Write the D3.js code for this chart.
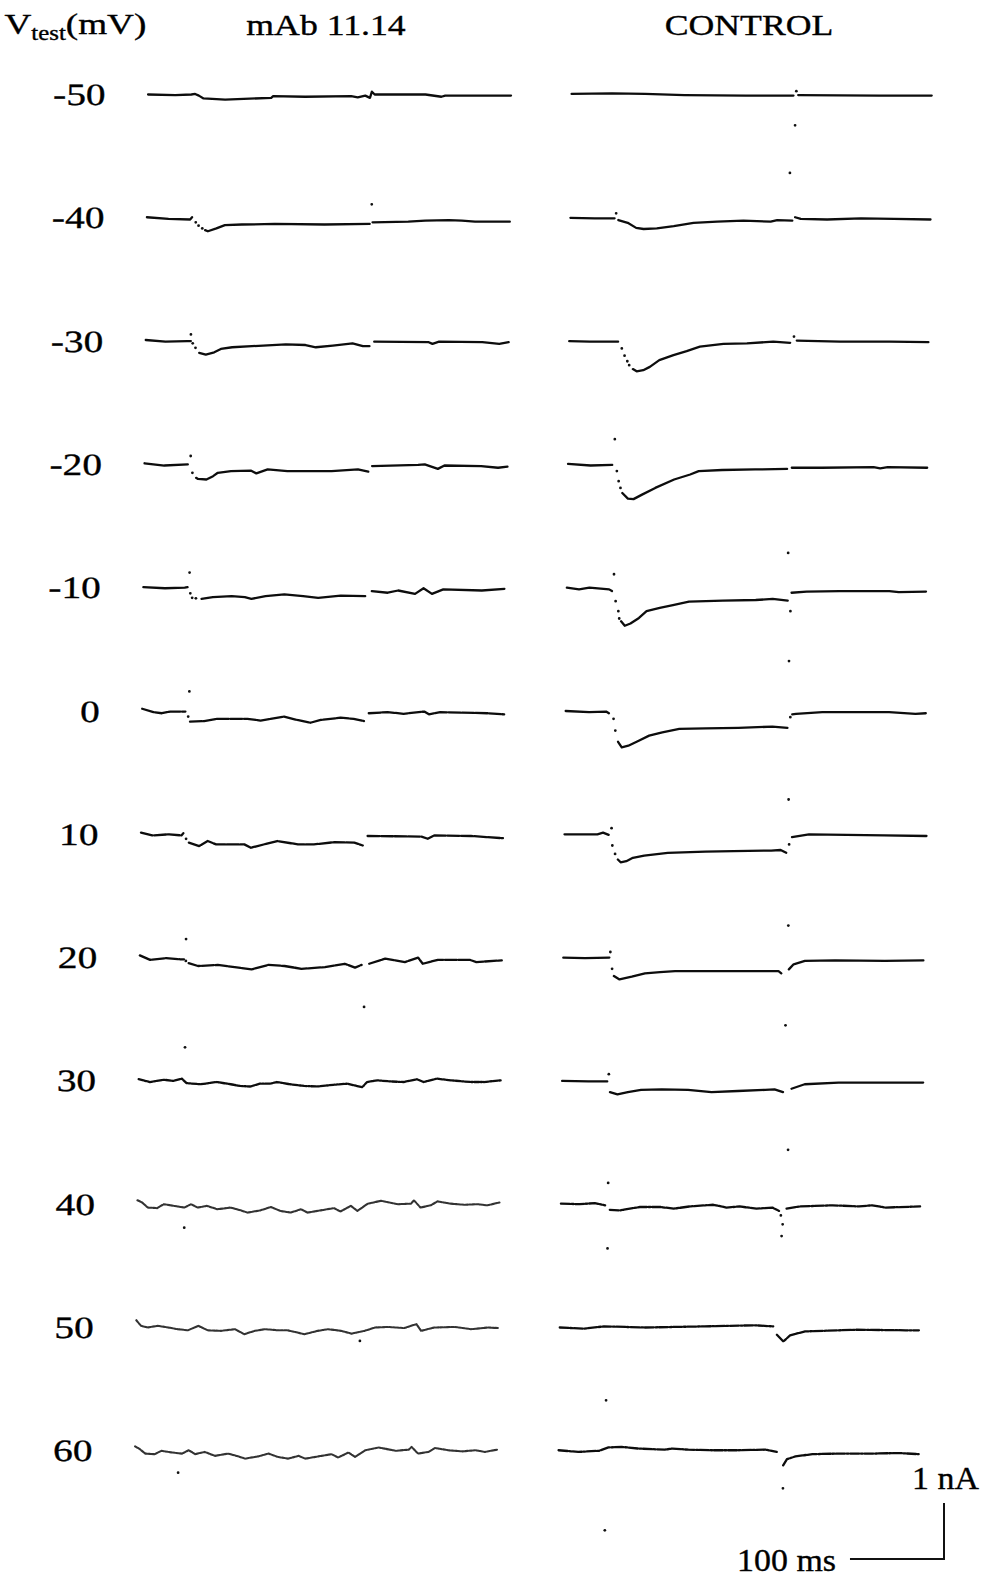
<!DOCTYPE html>
<html>
<head>
<meta charset="utf-8">
<script src="https://cdn.jsdelivr.net/npm/d3@7"></script>
<style>
  html, body { margin: 0; padding: 0; background: #fff; }
  svg { display: block; }
  text { font-family: "Liberation Serif", "Times New Roman", serif; fill: #000; stroke: #000; stroke-width: 0.35px; }
</style>
</head>
<body>
<svg id="chart" width="986" height="1579"></svg>
<script>
// ---- data -------------------------------------------------------------
// Test potentials (mV), one row of traces each
const voltages = [-50, -40, -30, -20, -10, 0, 10, 20, 30, 40, 50, 60];
const columnTitles = ["mAb 11.14", "CONTROL"];

// Current traces as [time (ms), current (nA)] relative to the holding level.
// null = pen lifted (fast transient drawn as isolated samples instead).
const mAbTraces = [
  [[0,0],[29,-0.01],[46,0],[50,0.01],[54,-0.02],[59,-0.07],[82,-0.09],[131,-0.06],[133,-0.03],[167,-0.04],[216,-0.03],[223,-0.05],[231,-0.02],[236,-0.06],[238,0.05],[241,0],[295,0],[312,-0.04],[316,-0.02],[380,-0.02],[386,-0.02]],
  [[0,0.01],[23,-0.02],[46,-0.03],[48,0.01],null,[62,-0.22],[65,-0.24],[74,-0.19],[83,-0.13],[101,-0.12],[136,-0.11],[189,-0.12],[237,-0.11],null,[240,-0.08],[278,-0.07],[296,-0.05],[321,-0.04],[335,-0.05],[349,-0.07],[386,-0.07]],
  [[0,0.02],[21,-0.01],[44,0],[48,0],null,[57,-0.21],[64,-0.24],[73,-0.2],[80,-0.14],[92,-0.11],[113,-0.09],[149,-0.06],[170,-0.07],[181,-0.11],[199,-0.08],[220,-0.04],[231,-0.09],[238,-0.09],null,[243,-0.01],[301,-0.02],[305,-0.05],[312,-0.01],[358,-0.02],[376,-0.05],[386,-0.02]],
  [[0,0.02],[21,-0.02],[46,0],null,[55,-0.24],[57,-0.26],[66,-0.27],[73,-0.21],[78,-0.15],[92,-0.12],[113,-0.11],[119,-0.16],[131,-0.09],[152,-0.12],[199,-0.12],[227,-0.09],[238,-0.13],null,[242,-0.03],[291,-0.01],[298,0],[312,-0.08],[319,-0.02],[358,-0.03],[376,-0.06],[386,-0.04]],
  [[0,0.01],[23,-0.01],[44,0],[47,0.01],null,[62,-0.2],[74,-0.17],[94,-0.15],[108,-0.17],[115,-0.2],[130,-0.15],[150,-0.12],[170,-0.15],[186,-0.18],[210,-0.14],[236,-0.15],null,[243,-0.06],[260,-0.09],[271,-0.05],[289,-0.11],[298,-0.01],[307,-0.11],[319,-0.03],[360,-0.05],[384,-0.02]],
  [[0,0.04],[12,-0.02],[21,-0.04],[30,-0.01],[46,-0.01],null,[51,-0.19],[66,-0.18],[80,-0.14],[112,-0.14],[126,-0.17],[151,-0.1],[165,-0.16],[179,-0.21],[190,-0.16],[211,-0.12],[225,-0.14],[236,-0.18],null,[241,-0.04],[261,-0.02],[278,-0.05],[300,-0.01],[305,-0.06],[317,-0.02],[367,-0.04],[385,-0.06]],
  [[0,0.03],[12,-0.02],[30,0],[43,-0.02],[45,0.02],null,[51,-0.15],[62,-0.21],[71,-0.12],[80,-0.18],[110,-0.18],[117,-0.24],[145,-0.12],[167,-0.18],[184,-0.18],[206,-0.14],[227,-0.15],[236,-0.2],null,[241,-0.03],[298,-0.04],[305,-0.08],[312,-0.02],[351,-0.03],[385,-0.07]],
  [[0,0.04],[11,-0.04],[28,-0.01],[43,-0.03],[47,-0.03],null,[52,-0.1],[62,-0.15],[83,-0.13],[101,-0.17],[119,-0.21],[137,-0.13],[154,-0.15],[172,-0.2],[197,-0.17],[218,-0.11],[229,-0.18],[236,-0.13],null,[244,-0.11],[261,-0.02],[282,-0.08],[296,0],[301,-0.11],[317,-0.04],[351,-0.04],[358,-0.08],[385,-0.05]],
  [[0,0.03],[12,-0.02],[27,0.02],[37,0],[46,0.04],[51,-0.04],[66,-0.06],[83,-0.02],[98,-0.06],[108,-0.09],[119,-0.1],[129,-0.05],[140,-0.05],[147,-0.02],[161,-0.06],[176,-0.09],[190,-0.1],[207,-0.07],[222,-0.05],[232,-0.09],[238,-0.11],[243,-0.02],[254,0.01],[268,-0.01],[282,-0.02],[296,0.03],[303,-0.02],[317,0.04],[332,0.01],[353,-0.02],[367,-0.02],[385,0.01]],
  [[0,0.07],[5,0.03],[11,-0.06],[21,-0.07],[28,0],[39,-0.03],[50,-0.06],[57,0],[64,-0.06],[74,-0.03],[85,-0.09],[99,-0.06],[110,-0.11],[117,-0.15],[131,-0.11],[142,-0.05],[152,-0.12],[163,-0.15],[174,-0.09],[181,-0.15],[195,-0.11],[209,-0.07],[216,-0.13],[227,-0.03],[234,-0.12],[245,0.01],[259,0.06],[277,0],[291,0.01],[294,0.07],[301,-0.06],[312,-0.02],[319,0.05],[333,0.01],[348,-0.01],[362,0],[372,-0.02],[385,0.03]],
  [[0,0.13],[5,0.03],[12,0],[23,0.03],[34,0],[44,-0.03],[55,-0.05],[66,0.03],[76,-0.05],[90,-0.06],[105,-0.03],[115,-0.12],[126,-0.06],[137,-0.03],[151,-0.05],[161,-0.05],[179,-0.12],[193,-0.06],[204,-0.03],[218,-0.06],[229,-0.11],[243,-0.06],[254,0],[268,0.01],[285,-0.01],[298,0.06],[303,-0.06],[317,0],[339,0.01],[356,-0.03],[374,0],[385,-0.01]],
  [[0,0.08],[5,0.03],[11,-0.05],[21,-0.06],[28,0],[39,-0.03],[50,-0.05],[57,0.01],[64,-0.06],[74,-0.02],[85,-0.09],[99,-0.05],[110,-0.1],[117,-0.14],[131,-0.1],[142,-0.05],[152,-0.11],[163,-0.14],[174,-0.09],[181,-0.14],[195,-0.1],[209,-0.06],[216,-0.12],[227,-0.03],[234,-0.11],[245,0.01],[259,0.06],[277,0],[291,0.02],[294,0.07],[301,-0.05],[312,-0.02],[319,0.05],[333,0.01],[348,-0.01],[362,0.01],[372,-0.02],[385,0.02]]
];
const controlTraces = [
  [[0,0.01],[43,0.02],[78,0.01],[120,-0.01],[185,-0.02],[236,-0.02],null,[241,-0.01],[327,-0.02],[383,-0.02]],
  [[0,0],[26,-0.01],[47,-0.01],null,[51,-0.04],[61,-0.09],[70,-0.18],[78,-0.2],[92,-0.19],[110,-0.15],[131,-0.09],[156,-0.07],[184,-0.05],[213,-0.07],[220,-0.04],[236,-0.05],null,[239,0.01],[245,-0.02],[273,-0.03],[309,-0.01],[344,-0.02],[383,-0.03]],
  [[0,0],[22,-0.01],[52,-0.01],null,[68,-0.5],[72,-0.54],[79,-0.52],[86,-0.46],[96,-0.34],[111,-0.25],[125,-0.18],[139,-0.1],[164,-0.05],[189,-0.04],[217,-0.01],[235,-0.03],null,[242,0.01],[288,-0.01],[341,-0.01],[382,-0.02]],
  [[0,0.01],[24,-0.02],[47,-0.01],null,[58,-0.51],[64,-0.61],[70,-0.62],[79,-0.54],[93,-0.42],[113,-0.27],[130,-0.18],[139,-0.12],[164,-0.1],[199,-0.09],[233,-0.08],null,[238,-0.06],[270,-0.06],[325,-0.05],[332,-0.07],[340,-0.05],[382,-0.06]],
  [[0,0],[13,-0.03],[24,0],[45,-0.03],[48,-0.06],null,[58,-0.6],[62,-0.68],[68,-0.64],[77,-0.54],[85,-0.42],[99,-0.36],[113,-0.31],[130,-0.25],[166,-0.23],[201,-0.22],[219,-0.2],[235,-0.23],null,[239,-0.09],[255,-0.07],[290,-0.06],[343,-0.06],[353,-0.08],[382,-0.07]],
  [[0,0],[25,-0.02],[43,-0.01],[46,-0.04],null,[56,-0.55],[60,-0.65],[67,-0.62],[78,-0.53],[89,-0.44],[103,-0.38],[121,-0.32],[149,-0.31],[184,-0.3],[220,-0.28],[236,-0.3],null,[241,-0.06],[245,-0.05],[273,-0.02],[309,-0.02],[344,-0.02],[372,-0.05],[383,-0.04]],
  [[0,0],[35,0],[41,0.03],[47,-0.01],null,[57,-0.45],[60,-0.5],[66,-0.48],[73,-0.42],[85,-0.38],[110,-0.33],[150,-0.31],[180,-0.3],[220,-0.29],[230,-0.28],[236,-0.33],null,[242,-0.05],[260,0],[300,-0.01],[340,-0.02],[385,-0.03]],
  [[0,0],[23,-0.01],[49,0],null,[54,-0.33],[60,-0.39],[73,-0.34],[87,-0.28],[103,-0.26],[119,-0.24],[165,-0.24],[200,-0.24],[229,-0.24],[232,-0.28],null,[240,-0.21],[245,-0.12],[257,-0.06],[289,-0.05],[342,-0.06],[383,-0.05]],
  [[0,0],[28,-0.01],[48,-0.01],null,[51,-0.2],[59,-0.24],[70,-0.2],[84,-0.16],[106,-0.15],[134,-0.16],[159,-0.2],[187,-0.18],[216,-0.16],[226,-0.15],[235,-0.2],null,[244,-0.14],[258,-0.06],[294,-0.03],[347,-0.03],[384,-0.03]],
  [[0,0.01],[20,0],[36,0.02],[47,-0.02],null,[52,-0.1],[63,-0.11],[84,-0.05],[106,-0.05],[120,-0.08],[137,-0.04],[162,-0.01],[176,-0.06],[190,-0.04],[208,-0.08],[225,-0.06],[232,-0.12],null,[240,-0.08],[254,-0.04],[289,-0.02],[317,-0.04],[331,-0.02],[345,-0.06],[382,-0.04]],
  [[0,0],[26,-0.02],[47,0.02],[90,0],[154,0.02],[207,0.04],[227,0.02],null,[231,-0.13],[238,-0.25],[245,-0.14],[261,-0.07],[315,-0.04],[368,-0.05],[382,-0.05]],
  [[0,0.01],[21,-0.02],[43,0],[53,0.06],[67,0.07],[85,0.04],[113,0.02],[121,0.04],[138,0.02],[163,0.01],[191,0.01],[220,0.02],[232,-0.02],null,[239,-0.26],[243,-0.15],[252,-0.1],[270,-0.06],[298,-0.05],[333,-0.05],[362,-0.04],[383,-0.06]]
];

// Isolated samples caught during the capacitive transients, [ms, nA]
const mAbSamples = [
  [],
  [[52,-0.08],[55,-0.14],[59,-0.19],[239,0.24]],
  [[48,0.12],[50,-0.04],[53,-0.12]],
  [[49,0.15],[51,-0.15]],
  [[49,0.27],[50,-0.1],[52,-0.18],[56,-0.19]],
  [[50,0.35],[49,-0.1]],
  [[48,-0.08]],
  [[49,0.33],[49,-0.06],[239,-0.88]],
  [[49,0.6]],
  [[50,-0.42]],
  [[238,-0.24]],
  [[46,-0.39]]
];
const controlSamples = [
  [[239,0.06],[238,-0.55],[233,-1.4]],
  [[48.6,0.08]],
  [[56,-0.13],[59,-0.26],[62,-0.36],[64,-0.43],[239,0.08]],
  [[49.5,0.45],[52,-0.12],[54,-0.3],[56,-0.42],[235,-1.58]],
  [[50,0.24],[52,-0.24],[55,-0.42],[56,-0.55],[238,-0.42],[237,-1.31]],
  [[51,-0.14],[53,-0.35],[239,-0.11],[238,-1.58]],
  [[50,0.11],[51,-0.2],[54,-0.35],[239,-0.18],[239,-1.63]],
  [[50,0.1],[52,-0.2],[237,-1.21]],
  [[49.6,0.12],[241,-1.23]],
  [[50,0.38],[50,-0.79],[234,-0.2],[236,-0.36],[235,-0.57]],
  [[50,-1.3]],
  [[239,-0.67],[50,-1.42]]
];

// Calibration bar: [time (ms), current (nA)] and its labels
const scaleBarValues = [100, 1];
const scaleBarLabels = ["100 ms", "1 nA"];

// ---- layout -----------------------------------------------------------
const svg = d3.select("#chart");

const t = d3.scaleLinear().domain([0, 385]).range([0, 362]);      // ms -> px
const cur = d3.scaleLinear().domain([-1, 1]).range([56, -56]);     // nA -> px
const rowY = d3.scalePoint().domain(voltages).range([94.5, 1450.8]);
const columnX = [149, 572.5];

// pen style per column / row
const penDash = (col, i) => {
  if (col === 0 && i >= 9) return "2.4,1.3";
  if (col === 0 && i === 8) return "5,1.4,1.5,1.4";
  if (col === 0 && i >= 5) return "12,1.5";
  if (col === 1 && i >= 9) return "9,1.6,2,1.6";
  return null;
};
const penWidth = (col, i) => (col === 0 && i >= 9) ? 2.1 : 2.3;
const penColor = (col, i) => (col === 0 && i >= 9) ? "#333" : "#0d0d0d";

// the sweeps drift slightly left from top to bottom
const page = svg.append("g").attr("transform", "skewX(-0.55)");

const line = d3.line()
  .defined(d => d !== null)
  .x(d => t(d[0]))
  .y(d => cur(d[1]));

[mAbTraces, controlTraces].forEach((traces, col) => {
  const samples = col === 0 ? mAbSamples : controlSamples;
  const colG = page.append("g").attr("transform", `translate(${columnX[col]},0)`);
  const rows = colG.selectAll("g.row").data(voltages).join("g")
    .attr("class", "row")
    .attr("transform", v => `translate(0,${rowY(v)})`);

  rows.append("path")
    .attr("d", (v, i) => line(traces[i]))
    .attr("fill", "none")
    .attr("stroke", (v, i) => penColor(col, i))
    .attr("stroke-width", (v, i) => penWidth(col, i))
    .attr("stroke-linejoin", "round")
    .attr("stroke-linecap", "round")
    .attr("stroke-dasharray", (v, i) => penDash(col, i));

  rows.each(function (v, i) {
    d3.select(this).selectAll("circle").data(samples[i]).join("circle")
      .attr("cx", d => t(d[0]))
      .attr("cy", d => cur(d[1]))
      .attr("r", 1.4)
      .attr("fill", "#111");
  });
});

// test potential labels
page.selectAll("text.vlab").data(voltages).join("text")
  .attr("class", "vlab")
  .attr("transform", v => `translate(106.5,${rowY(v) + 10.5}) scale(1.27,1)`)
  .attr("text-anchor", "end")
  .attr("font-size", 31)
  .text(v => String(v));

// headings
const head = svg.append("text")
  .attr("transform", "translate(4.5,34) scale(1.24,1)")
  .attr("font-size", 30);
head.append("tspan").text("V");
head.append("tspan").attr("font-size", 20).attr("dy", 6).text("test");
head.append("tspan").attr("dy", -6).text("(mV)");

svg.selectAll("text.title").data(columnTitles).join("text")
  .attr("class", "title")
  .attr("transform", (d, i) => `translate(${[326, 749][i]},35) scale(1.19,1)`)
  .attr("text-anchor", "middle")
  .attr("font-size", 30)
  .text(d => d);

// calibration bar
const barCorner = [944, 1559];
const bar = svg.append("g");
bar.append("path")
  .attr("d", `M${barCorner[0] - (t(scaleBarValues[0]) - t(0))},${barCorner[1]}` +
             `H${barCorner[0]}` +
             `V${barCorner[1] - (cur(0) - cur(scaleBarValues[1]))}`)
  .attr("fill", "none")
  .attr("stroke", "#111")
  .attr("stroke-width", 2);
bar.append("text")
  .attr("transform", "translate(836,1571) scale(1.06,1)")
  .attr("text-anchor", "end")
  .attr("font-size", 32)
  .text(scaleBarLabels[0]);
bar.append("text")
  .attr("transform", "translate(979,1489) scale(1.06,1)")
  .attr("text-anchor", "end")
  .attr("font-size", 32)
  .text(scaleBarLabels[1]);
</script>
</body>
</html>
